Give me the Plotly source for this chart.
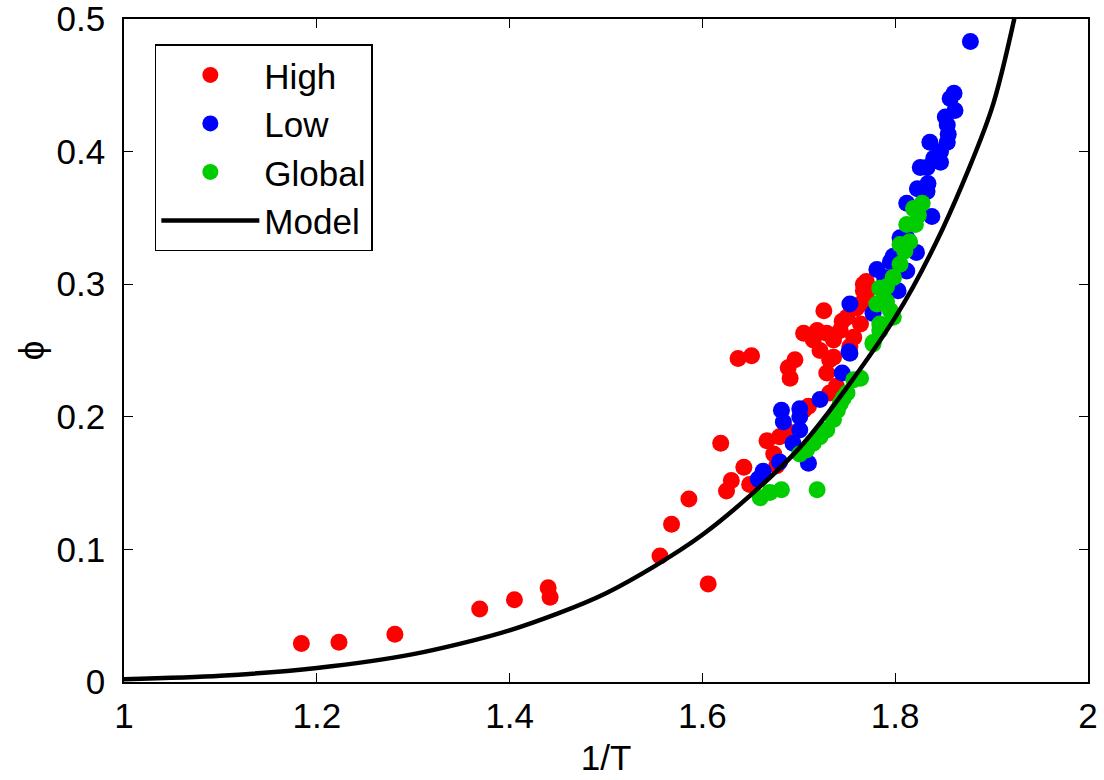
import plotly.graph_objects as go

# High series
high_x = [1.184, 1.223, 1.281, 1.369, 1.405, 1.440, 1.442, 1.556, 1.606, 1.568, 1.586,
          1.619, 1.625, 1.630, 1.643, 1.649, 1.637, 1.651, 1.691, 1.689, 1.696,
          1.667, 1.674, 1.680, 1.687, 1.677, 1.705, 1.710, 1.732, 1.739, 1.726, 1.729,
          1.705, 1.715, 1.722, 1.732, 1.736, 1.743, 1.750, 1.757, 1.753, 1.764,
          1.767, 1.770, 1.764, 1.777, 1.729, 1.719, 1.736, 1.770, 1.767, 1.760, 1.745]
high_y = [0.029, 0.030, 0.036, 0.055, 0.062, 0.071, 0.064, 0.095, 0.074, 0.119, 0.138,
          0.180, 0.144, 0.152, 0.162, 0.149, 0.244, 0.246, 0.229, 0.237, 0.243,
          0.182, 0.172, 0.185, 0.190, 0.163, 0.205, 0.208, 0.218, 0.223, 0.280, 0.233,
          0.263, 0.258, 0.250, 0.243, 0.258, 0.265, 0.275, 0.260, 0.253, 0.270,
          0.300, 0.293, 0.285, 0.280, 0.263, 0.265, 0.245, 0.302, 0.295, 0.282, 0.272]

# Low series
low_x = [1.682, 1.684, 1.701, 1.722, 1.753, 1.753, 1.745, 1.680, 1.663, 1.658, 1.710,
         1.694, 1.701, 1.701, 1.781, 1.795, 1.805, 1.812, 1.803, 1.826, 1.823, 1.752,
         1.878, 1.861, 1.857, 1.862, 1.852, 1.854, 1.855, 1.836, 1.854, 1.847, 1.840,
         1.833, 1.847, 1.834, 1.833, 1.838, 1.822, 1.812, 1.798, 1.812, 1.789, 1.777]
low_y = [0.205, 0.196, 0.200, 0.213, 0.285, 0.248, 0.233, 0.166, 0.159, 0.153, 0.165,
         0.180, 0.190, 0.206, 0.311, 0.317, 0.335, 0.361, 0.295, 0.388, 0.372, 0.249,
         0.483, 0.444, 0.440, 0.431, 0.426, 0.420, 0.413, 0.407, 0.407, 0.400, 0.395,
         0.388, 0.392, 0.376, 0.370, 0.351, 0.324, 0.310, 0.321, 0.335, 0.305, 0.278]

# Global series
glob_x = [1.660, 1.670, 1.682, 1.719, 1.701, 1.708, 1.715, 1.722, 1.729, 1.736, 1.743,
          1.750, 1.757, 1.764, 1.777, 1.784, 1.791, 1.795, 1.798, 1.828, 1.824, 1.821,
          1.815, 1.810, 1.805, 1.798, 1.791, 1.788, 1.819, 1.812, 1.805, 1.784, 1.781,
          1.784, 1.798, 1.777, 1.746, 1.740]
glob_y = [0.139, 0.143, 0.145, 0.145, 0.172, 0.175, 0.180, 0.185, 0.190, 0.198, 0.210,
          0.218, 0.228, 0.229, 0.256, 0.265, 0.287, 0.280, 0.305, 0.361, 0.352, 0.345,
          0.332, 0.325, 0.315, 0.305, 0.298, 0.287, 0.357, 0.345, 0.330, 0.297, 0.285,
          0.270, 0.275, 0.255, 0.214, 0.205]

# Model curve
model_x = [1.0, 1.1, 1.2, 1.3, 1.4, 1.5, 1.6, 1.7, 1.8, 1.85, 1.9, 1.925]
model_y = [0.002, 0.0047, 0.0106, 0.021, 0.039, 0.067, 0.111, 0.176, 0.275, 0.343,
           0.432, 0.505]

x_ticks = [1, 1.2, 1.4, 1.6, 1.8, 2]
x_tick_text = ["1", "1.2", "1.4", "1.6", "1.8", "2"]
y_ticks = [0, 0.1, 0.2, 0.3, 0.4, 0.5]
y_tick_text = ["0", "0.1", "0.2", "0.3", "0.4", "0.5"]

FONT = "Liberation Sans, Arial, Helvetica, sans-serif"
FS = 35
MS = 17

fig = go.Figure()
fig.add_trace(go.Scatter(x=high_x, y=high_y, mode="markers", name="High",
                         marker=dict(color="#ff0000", size=MS)))
fig.add_trace(go.Scatter(x=low_x, y=low_y, mode="markers", name="Low",
                         marker=dict(color="#0000ff", size=MS)))
fig.add_trace(go.Scatter(x=glob_x, y=glob_y, mode="markers", name="Global",
                         marker=dict(color="#00cc00", size=MS)))
fig.add_trace(go.Scatter(x=model_x, y=model_y, mode="lines", name="Model",
                         line=dict(color="black", width=4.5, shape="spline",
                                   smoothing=0.8)))

axis_common = dict(showgrid=False, zeroline=False, showline=True, linecolor="black",
                   linewidth=1.5, mirror="allticks", ticks="inside", ticklen=9,
                   tickwidth=1.2, tickcolor="black", ticklabeloverflow="allow",
                   automargin=False,
                   tickfont=dict(family=FONT, size=FS, color="black"))

fig.update_xaxes(range=[1, 2], tickvals=x_ticks, ticktext=x_tick_text,
                 title=dict(text="1/T", font=dict(family=FONT, size=FS, color="black"),
                            standoff=12),
                 ticklabelstandoff=2, **axis_common)
fig.update_yaxes(range=[0, 0.5], tickvals=y_ticks, ticktext=y_tick_text,
                 title=dict(text="ϕ", font=dict(family=FONT, size=FS, color="black"),
                            standoff=1),
                 ticklabelstandoff=10, **axis_common)

fig.update_layout(
    width=1104, height=780,
    margin=dict(l=124, r=16, t=19, b=98, autoexpand=False),
    plot_bgcolor="white", paper_bgcolor="white",
    font=dict(family=FONT, size=FS, color="black"),
    legend=dict(x=0.032, y=0.962, xanchor="left", yanchor="top",
                bgcolor="white", bordercolor="black", borderwidth=1.5,
                font=dict(family=FONT, size=FS, color="black"),
                itemwidth=98, tracegroupgap=0),
)

fig.write_html("out.html", config={"displayModeBar": False},
               post_script="document.body.style.margin='0';document.body.style.overflow='hidden';")
